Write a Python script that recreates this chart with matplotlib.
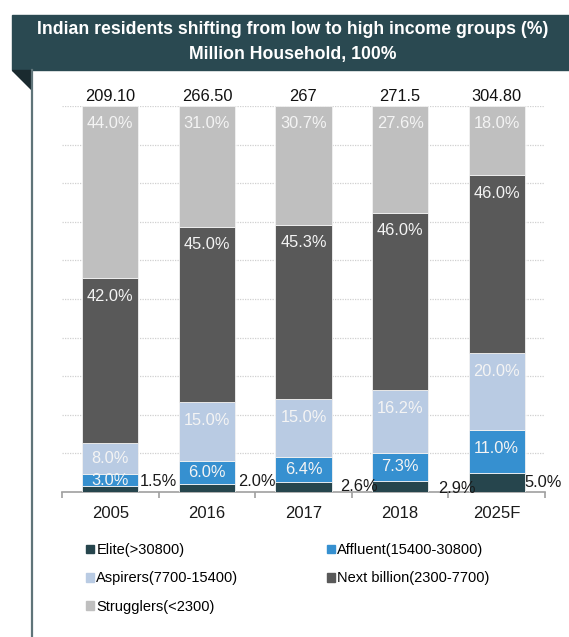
import matplotlib.pyplot as plt
import matplotlib.patches as mpatches
import numpy as np

plt.rcParams['font.family'] = ['Liberation Sans', 'DejaVu Sans']

years = ['2005', '2016', '2017', '2018', '2025F']
totals = ['209.10', '266.50', '267', '271.5', '304.80']
groups = ['Elite(>30800)', 'Affluent(15400-30800)', 'Aspirers(7700-15400)',
          'Next billion(2300-7700)', 'Strugglers(<2300)']
elite = [1.5, 2.0, 2.6, 2.9, 5.0]
affluent = [3.0, 6.0, 6.4, 7.3, 11.0]
aspirers = [8.0, 15.0, 15.0, 16.2, 20.0]
next_billion = [42.0, 45.0, 45.3, 46.0, 46.0]
strugglers = [44.0, 31.0, 30.7, 27.6, 18.0]

colors = ['#26454d', '#3690d0', '#b9cbe3', '#595959', '#bfbfbf']

W, H = 569, 637
fig = plt.figure(figsize=(W / 100, H / 100), dpi=100)

def px(x, y):
    return x / W, 1 - y / H

# header band, fold and left rule
x0, y0 = px(12, 70)
x1, y1 = px(569, 15)
fig.patches.append(mpatches.Rectangle((x0, y0), x1 - x0, y1 - y0, transform=fig.transFigure,
                                      color='#2a4951', zorder=0))
fig.patches.append(mpatches.Polygon([px(12, 70), px(31, 70), px(31, 89)], closed=True,
                                    transform=fig.transFigure, color='#1a2a2f', zorder=1))
fig.add_artist(plt.Line2D([32 / W, 32 / W], [0, 1 - 70 / H], transform=fig.transFigure,
                          color='#5f7479', lw=1.6))
fig.text(293 / W, 1 - 30 / H, 'Indian residents shifting from low to high income groups (%)',
         color='white', fontsize=12.7, fontweight='bold', ha='center', va='center')
fig.text(293 / W, 1 - 55 / H, 'Million Household, 100%',
         color='white', fontsize=12.7, fontweight='bold', ha='center', va='center')

ax = fig.add_axes([62 / W, 1 - 492 / H, 483 / W, 386 / H])

series = np.array([elite, affluent, aspirers, next_billion, strugglers])
shares = series / series.sum(axis=0) * 100
x = np.arange(len(years))
bottom = np.zeros(len(years))
px_per_pct = 386 / 100
for i, (vals, shr) in enumerate(zip(series, shares)):
    ax.bar(x, shr, 0.58, bottom=bottom, color=colors[i], edgecolor='#f2f2f2', lw=0.6, zorder=3)
    if i > 0:
        for j in range(len(years)):
            top = bottom[j] + shr[j]
            off = min(18 / px_per_pct, shr[j] / 2)
            ax.text(x[j], top - off, f'{vals[j]:.1f}%', ha='center', va='center',
                    color='#f4f4f4', fontsize=11.8, zorder=4)
    bottom += shr

# elite labels sit to the right of each bar
elite_dx = [0.02, 0.03, 0.09, 0.1, 0.0]
elite_y = [2.8, 2.8, 1.3, 0.8, 2.4]
for j in range(len(years)):
    ax.text(x[j] + 0.29 + elite_dx[j], elite_y[j], f'{elite[j]:.1f}%', ha='left', va='center',
            color='#1a1a1a', fontsize=11.8, zorder=4)

for j in range(len(years)):
    ax.text(x[j], 100.5, totals[j], ha='center', va='bottom', fontsize=11.8, color='#111111')

ax.set_xlim(-0.5, len(years) - 0.5)
ax.set_ylim(0, 100)
for g in range(10, 101, 10):
    ax.axhline(g, color='#d0d0d0', lw=0.9, ls=(0, (1, 1)), zorder=1)
for s in ['top', 'right', 'left']:
    ax.spines[s].set_visible(False)
ax.spines['bottom'].set_color('#a0a0a0')
ax.spines['bottom'].set_linewidth(1.2)
ax.set_yticks([])
ax.set_xticks(np.arange(-0.5, len(years), 1.0))
ax.set_xticklabels([])
ax.set_xticks(x, minor=True)
ax.set_xticklabels(years, minor=True, fontsize=12, color='#1a1a1a')
ax.tick_params(axis='x', which='major', length=4, color='#a0a0a0', width=1.2)
ax.tick_params(axis='x', which='minor', length=0, pad=10)

# legend is filled row-wise in the reference
order = [0, 2, 4, 1, 3]
handles = [mpatches.Patch(color=colors[k]) for k in order]
labels = [groups[k] for k in order]
leg = fig.legend(handles, labels, loc='upper left', bbox_to_anchor=(73 / W, 1 - 530 / H),
                 ncol=2, frameon=False, fontsize=10.5, handlelength=0.55, handleheight=0.55,
                 handletextpad=0.15, columnspacing=6.05, labelspacing=0.98)

fig.savefig('out.png', dpi=100)
